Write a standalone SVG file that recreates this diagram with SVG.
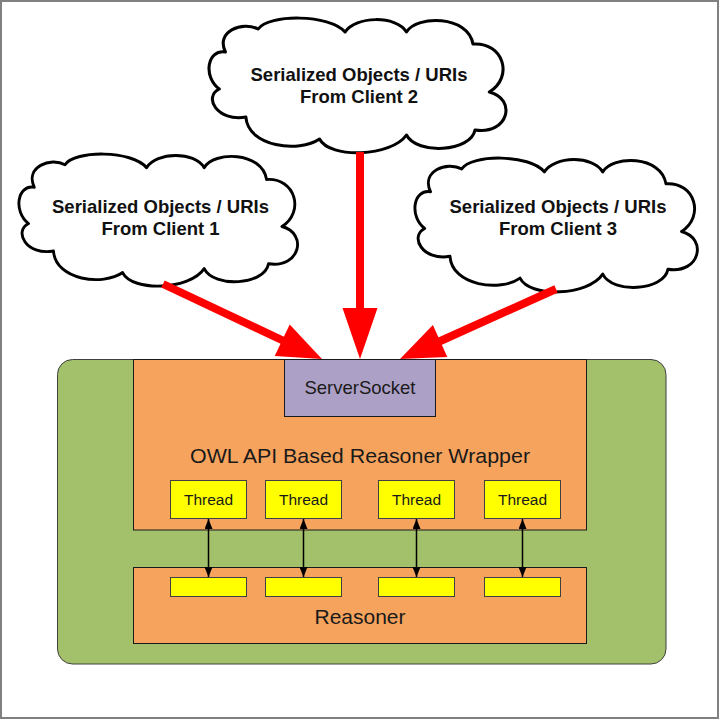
<svg xmlns="http://www.w3.org/2000/svg" width="720" height="720" viewBox="0 0 720 720">
<style>
.cloud{fill:#ffffff;stroke:#000000;stroke-width:3;stroke-linejoin:round}
.ct{font-family:"Liberation Sans",Arial,sans-serif;font-weight:bold;font-size:18.5px;fill:#111111;text-anchor:middle}
.lbl{font-family:"Liberation Sans",Arial,sans-serif;fill:#1a1a1a;text-anchor:middle}
.orange{fill:#f6a35d;stroke:#1a1a1a;stroke-width:1}
.yellow{fill:#ffff00;stroke:#404040;stroke-width:1}
.red{stroke:#ff0000;stroke-width:8;fill:none}
.redhead{fill:#ff0000}
.dbl{stroke:#000000;stroke-width:1.5;fill:none;marker-start:url(#ah);marker-end:url(#ah)}
</style>
<defs>
<path id="cloudShape" d="M18,35 C8,14 35,4 50,12 C60,-3 120,-3 135,15 C145,-1 185,-2 195,15 C205,-2 255,-2 260,27 C290,25 300,60 276,75 C303,82 295,118 262,113 C258,135 205,138 195,118 C180,140 120,142 110,122 C90,136 40,130 38,100 C10,105 -4,80 12,72 C-4,60 0,32 18,35 Z"/>
<marker id="ah" viewBox="0 0 10 8" refX="10" refY="4" markerWidth="10" markerHeight="8" markerUnits="userSpaceOnUse" orient="auto-start-reverse">
<path d="M0,0 L10,4 L0,8 Z" fill="#000000"/>
</marker>
</defs>
<rect x="1" y="1" width="717" height="717" fill="#ffffff" stroke="#808080" stroke-width="2"/>

<g id="container">
<rect x="57.5" y="359.5" width="608.5" height="304.5" rx="15" ry="15" fill="#a3c06b" stroke="#404040" stroke-width="1"/>
</g>

<g id="wrapper">
<rect class="orange" x="133.5" y="359.5" width="453" height="170.5"/>
<text class="lbl" x="360" y="463" font-size="21" textLength="340" lengthAdjust="spacingAndGlyphs">OWL API Based Reasoner Wrapper</text>
</g>

<g id="serversocket">
<rect x="284.5" y="359.5" width="151" height="57" fill="#ada0c6" stroke="#1a1a1a" stroke-width="1"/>
<text class="lbl" x="360" y="394" font-size="18.5">ServerSocket</text>
</g>

<g id="reasoner">
<rect class="orange" x="133.5" y="567.5" width="453" height="76"/>
<text class="lbl" x="360" y="624" font-size="21">Reasoner</text>
</g>

<g id="thread1"><rect class="yellow" x="170.5" y="480.5" width="76" height="38"/><text class="lbl" x="208.5" y="504.5" font-size="15.5">Thread</text></g>
<g id="thread2"><rect class="yellow" x="265.5" y="480.5" width="76" height="38"/><text class="lbl" x="303.5" y="504.5" font-size="15.5">Thread</text></g>
<g id="thread3"><rect class="yellow" x="378.5" y="480.5" width="76" height="38"/><text class="lbl" x="416.5" y="504.5" font-size="15.5">Thread</text></g>
<g id="thread4"><rect class="yellow" x="484.5" y="480.5" width="76" height="38"/><text class="lbl" x="522.5" y="504.5" font-size="15.5">Thread</text></g>

<g id="slot1"><rect class="yellow" x="170.5" y="577.5" width="76" height="19"/></g>
<g id="slot2"><rect class="yellow" x="265.5" y="577.5" width="76" height="19"/></g>
<g id="slot3"><rect class="yellow" x="378.5" y="577.5" width="76" height="19"/></g>
<g id="slot4"><rect class="yellow" x="484.5" y="577.5" width="76" height="19"/></g>

<g id="client2">
<use href="#cloudShape" class="cloud" transform="translate(207,17) scale(1.023,1)"/>
<text class="ct" x="359" y="81">Serialized Objects / URIs</text>
<text class="ct" x="359" y="103">From Client 2</text>
</g>
<g id="client1">
<use href="#cloudShape" class="cloud" transform="translate(17,153) scale(0.96,0.98)"/>
<text class="ct" x="160.5" y="213">Serialized Objects / URIs</text>
<text class="ct" x="160.5" y="235">From Client 1</text>
</g>
<g id="client3">
<use href="#cloudShape" class="cloud" transform="translate(413,157) scale(0.973,0.993)"/>
<text class="ct" x="558" y="213">Serialized Objects / URIs</text>
<text class="ct" x="558" y="235">From Client 3</text>
</g>

<g id="connectors">
<line class="red" x1="163" y1="284" x2="286" y2="342"/>
<polygon class="redhead" points="322,359 274.7,356 289.7,324.4"/>
<line class="red" x1="360" y1="152" x2="360" y2="312"/>
<polygon class="redhead" points="360,359 342.5,308 377.5,308"/>
<line class="red" x1="556" y1="289" x2="436" y2="343"/>
<polygon class="redhead" points="400,359 447.3,357 432.9,325"/>
<line class="dbl" x1="208.5" y1="519" x2="208.5" y2="577"/>
<line class="dbl" x1="303.5" y1="519" x2="303.5" y2="577"/>
<line class="dbl" x1="416.5" y1="519" x2="416.5" y2="577"/>
<line class="dbl" x1="522.5" y1="519" x2="522.5" y2="577"/>
</g>
</svg>
